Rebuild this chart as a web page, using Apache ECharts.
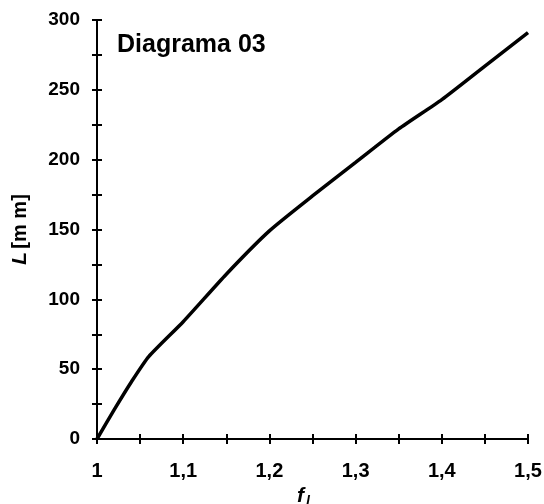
<!DOCTYPE html>
<html>
<head>
<meta charset="utf-8">
<script src="https://cdn.jsdelivr.net/npm/echarts@6/dist/echarts.min.js"></script>
<style>html,body{margin:0;padding:0;background:#fff}#c{width:544px;height:504px}</style>
</head>
<body>
<div id="c"></div>
<script>
var fValues = [1, 1.02, 1.04, 1.06, 1.1, 1.15, 1.2, 1.25, 1.3, 1.35, 1.4, 1.45, 1.5];
var lValues = [0, 21, 41, 59, 84, 118, 149, 174, 198, 222, 243, 267, 291];
var titleText = 'Diagrama 03';

var FONT = '"Liberation Sans", Arial, sans-serif';
var chart = echarts.init(document.getElementById('c'), null, {renderer: 'canvas'});
var data = fValues.map(function (f, i) { return [f, lValues[i]]; });

function axisCommon(extra) {
  return Object.assign({
    type: 'value',
    splitLine: {show: false},
    axisLine: {show: true, onZero: false, lineStyle: {color: '#000', width: 2}},
    axisTick: {show: true, length: 5, lineStyle: {color: '#000', width: 2}},
    minorTick: {show: true, splitNumber: 2, length: 5, lineStyle: {color: '#000', width: 2}}
  }, extra);
}

var option = {
  backgroundColor: '#fff',
  animation: false,
  title: {
    text: titleText, left: 112, top: 28,
    textStyle: {fontFamily: FONT, fontWeight: 'bold', fontSize: 25, color: '#000'}
  },
  grid: {left: 97, right: 16, top: 20, bottom: 65, containLabel: false, outerBoundsMode: 'none'},
  xAxis: [
    axisCommon({
      min: 1, max: 1.5, interval: 0.1,
      axisLabel: {
        margin: 22, color: '#000', fontFamily: FONT, fontWeight: 'bold', fontSize: 20,
        formatter: function (v) { return String(Math.round(v * 10) / 10).replace('.', ','); }
      },
      name: '{f|f}{s|l}',
      nameLocation: 'middle', nameGap: 42,
      nameTextStyle: {
        padding: [0, 18, 0, 0],
        rich: {
          f: {fontFamily: FONT, fontWeight: 'bold', fontStyle: 'italic', fontSize: 21, color: '#000'},
          s: {fontFamily: FONT, fontWeight: 'bold', fontStyle: 'italic', fontSize: 14, color: '#000', padding: [12, 0, 0, 2]}
        }
      }
    }),
    axisCommon({
      min: 1, max: 1.5, interval: 0.1, position: 'bottom',
      axisTick: {show: true, inside: true, length: 5, lineStyle: {color: '#000', width: 2}},
      minorTick: {show: true, splitNumber: 2, length: 5, lineStyle: {color: '#000', width: 2}},
      axisLabel: {show: false}
    })
  ],
  yAxis: [
    axisCommon({
      min: 0, max: 300, interval: 50,
      axisLabel: {margin: 17, color: '#000', fontFamily: FONT, fontWeight: 'bold', fontSize: 19},
      name: '{i|L} {b|[m m]}',
      nameLocation: 'middle', nameGap: 66, nameRotate: 90,
      nameTextStyle: {
        padding: [0, 0, 0, 0],
        rich: {
          i: {fontFamily: FONT, fontWeight: 'bold', fontStyle: 'italic', fontSize: 21, color: '#000'},
          b: {fontFamily: FONT, fontWeight: 'bold', fontSize: 20, color: '#000'}
        }
      }
    }),
    axisCommon({
      min: 0, max: 300, interval: 50, position: 'left',
      axisTick: {show: true, inside: true, length: 5, lineStyle: {color: '#000', width: 2}},
      minorTick: {show: true, splitNumber: 2, length: 5, lineStyle: {color: '#000', width: 2}},
      axisLabel: {show: false}
    })
  ],
  series: [{
    type: 'line',
    data: data,
    xAxisIndex: 0, yAxisIndex: 0,
    showSymbol: false,
    smooth: 0.2,
    lineStyle: {color: '#000', width: 3.5},
    z: 5
  }]
};
chart.setOption(option);
</script>
</body>
</html>
